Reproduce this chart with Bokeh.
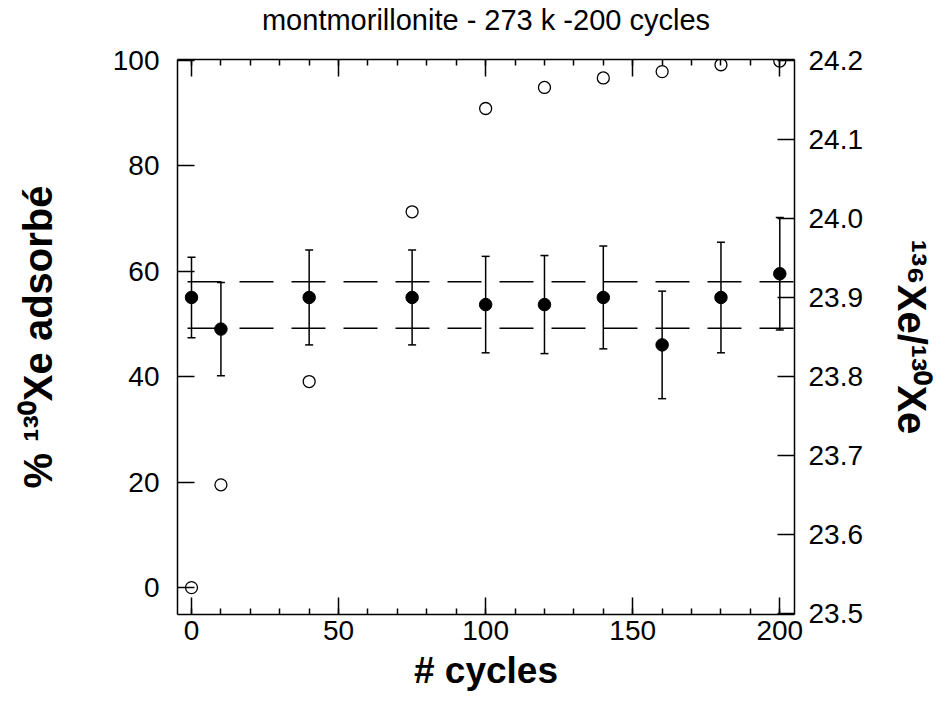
from bokeh.plotting import figure
from bokeh.models import (Range1d, LinearAxis, SingleIntervalTicker, FixedTicker,
                          PrintfTickFormatter, CustomJSTickFormatter, Span,
                          ColumnDataSource)
from bokeh.embed import file_html
from bokeh.resources import INLINE

# ---------------- data ----------------
cycles = [0, 10, 40, 75, 100, 120, 140, 160, 180, 200]
pct_adsorbed = [0.0, 19.5, 39.1, 71.3, 90.9, 94.9, 96.7, 97.9, 99.2, 99.9]
ratio = [23.900, 23.860, 23.900, 23.900, 23.891, 23.891, 23.900, 23.840, 23.900, 23.930]
ratio_err = [0.051, 0.059, 0.060, 0.060, 0.061, 0.062, 0.065, 0.068, 0.070, 0.071]
ref_levels = [23.920, 23.861]
left_ticks = [0, 20, 40, 60, 80, 100]
right_ticks = [23.5, 23.6, 23.7, 23.8, 23.9, 24.0, 24.1, 24.2]
title_text = "montmorillonite - 273 k -200 cycles"
xlabel_text = "# cycles"
ylabel_left = "% \u00b9\u00b3\u2070Xe adsorbé"
ylabel_right = "\u00b9\u00b3\u2076Xe/\u00b9\u00b3\u2070Xe"

FONT = "Liberation Sans"

# ---------------- figure ----------------
p = figure(width=936, height=709, output_backend="svg", toolbar_location=None,
           x_range=Range1d(-4.76, 205.0), y_range=Range1d(-5.1, 100.2),
           min_border_left=177, min_border_right=142, min_border_top=59,
           min_border_bottom=95, title=title_text)
p.extra_y_ranges = {"ratio": Range1d(23.499, 24.201)}
p.xgrid.visible = False
p.ygrid.visible = False
p.outline_line_color = None
p.background_fill_color = "white"
p.border_fill_color = "white"

p.title.text_font = FONT
p.title.text_font_size = "29px"
p.title.text_font_style = "normal"
p.title.text_color = "black"
p.title.align = "center"
p.title.standoff = 0


def style_axis(ax):
    ax.axis_line_color = "black"
    ax.axis_line_width = 1.5
    ax.major_tick_line_color = "black"
    ax.major_tick_line_width = 1.5
    ax.minor_tick_line_color = "black"
    ax.minor_tick_line_width = 1.5
    ax.major_tick_in = 17
    ax.major_tick_out = 0
    ax.minor_tick_in = 6
    ax.minor_tick_out = 0
    ax.major_label_text_font = FONT
    ax.major_label_text_font_size = "28px"
    ax.major_label_text_color = "black"
    ax.axis_label_text_font = FONT
    ax.axis_label_text_font_style = "bold"
    ax.axis_label_text_color = "black"


xb = p.below[0]
style_axis(xb)
xb.ticker = SingleIntervalTicker(interval=50, num_minor_ticks=5)
xb.major_label_standoff = 6
xb.axis_label = xlabel_text
xb.axis_label_text_font_size = "37px"
xb.axis_label_standoff = 7

# top frame edge: ticks only, with a blank spacer label that keeps the title up
xt = LinearAxis(ticker=SingleIntervalTicker(interval=50, num_minor_ticks=5),
                formatter=CustomJSTickFormatter(code="return ''"))
style_axis(xt)
xt.major_label_text_font_size = "1px"
xt.major_label_standoff = 0
xt.axis_label = "\u00a0"
xt.axis_label_text_font_size = "12px"
xt.axis_label_standoff = 7
p.add_layout(xt, "above")

yl = p.left[0]
style_axis(yl)
yl.ticker = FixedTicker(ticks=left_ticks)
yl.minor_tick_line_color = None
yl.major_label_standoff = 18
yl.axis_label = ylabel_left
yl.axis_label_text_font_size = "40px"
yl.axis_label_standoff = 50

yr = LinearAxis(y_range_name="ratio", ticker=FixedTicker(ticks=right_ticks),
                formatter=PrintfTickFormatter(format="%.1f"))
style_axis(yr)
yr.minor_tick_line_color = None
yr.major_label_standoff = 14
yr.axis_label = ylabel_right
yr.axis_label_text_font_size = "40px"
yr.axis_label_standoff = 24
p.add_layout(yr, "right")

# ---------------- glyphs ----------------
src = ColumnDataSource(dict(
    x=cycles, pct=pct_adsorbed, r=ratio,
    lo=[r - e for r, e in zip(ratio, ratio_err)],
    hi=[r + e for r, e in zip(ratio, ratio_err)],
))

for lvl in ref_levels:
    p.add_layout(Span(location=lvl, dimension="width", y_range_name="ratio",
                      line_color="black", line_width=1.5, line_dash="34 18",
                      line_dash_offset=42, level="underlay"))

p.segment(x0="x", y0="lo", x1="x", y1="hi", source=src, y_range_name="ratio",
          line_color="black", line_width=1.5)
p.scatter(x="x", y="hi", marker="dash", size=8, line_color="black", line_width=1.5,
          source=src, y_range_name="ratio")
p.scatter(x="x", y="lo", marker="dash", size=8, line_color="black", line_width=1.5,
          source=src, y_range_name="ratio")
p.scatter(x="x", y="r", marker="circle", size=12.5, fill_color="black",
          line_color="black", source=src, y_range_name="ratio")
p.scatter(x="x", y="pct", marker="circle", size=12, fill_color=None,
          line_color="black", line_width=1.3, source=src)

open("out.html", "w").write(file_html(p, INLINE))
